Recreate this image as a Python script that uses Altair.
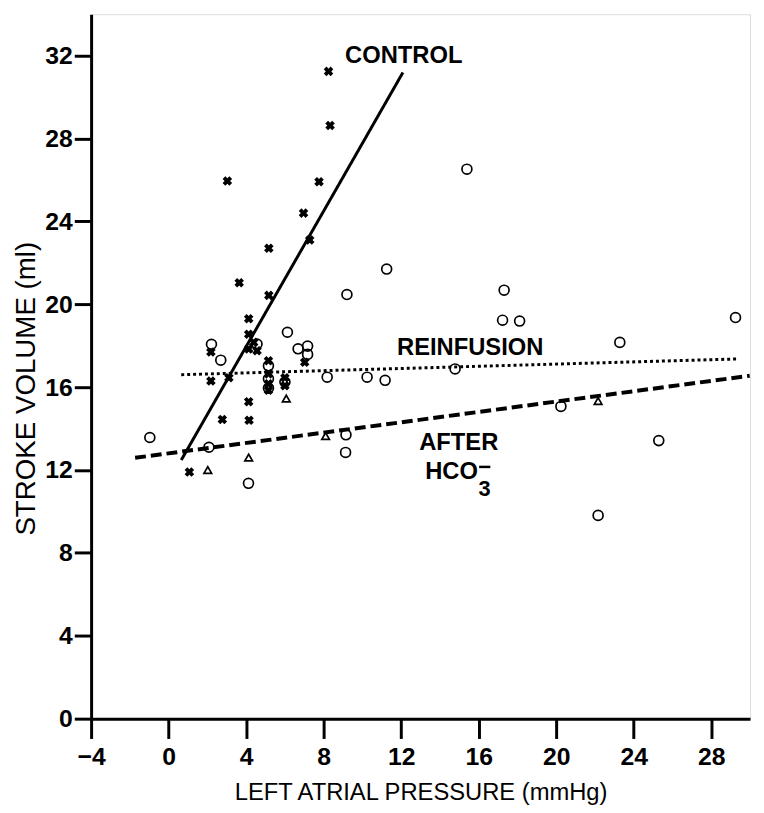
import altair as alt
import pandas as pd

# Control (crosses)
ctrl_x = [8.25, 8.33, 3.03, 7.76, 6.96, 7.28, 5.17, 3.64, 5.17, 4.13, 4.13, 4.39, 4.13, 4.56,
          2.18, 5.15, 7.02, 2.18, 3.11, 5.15, 5.15, 5.15, 6.0, 6.0, 4.13, 2.77, 4.15, 1.07]
ctrl_y = [31.24, 28.63, 25.95, 25.91, 24.4, 23.1, 22.7, 21.04, 20.43, 19.3, 18.55, 18.16, 17.84, 17.76,
          17.7, 17.27, 17.2, 16.3, 16.45, 16.64, 16.16, 15.85, 16.45, 16.07, 15.3, 14.44, 14.4, 11.9]

# Reinfusion (open circles)
circ_x = [-0.97, 2.21, 2.69, 2.08, 4.12, 4.56, 5.15, 5.15, 5.15, 6.0, 6.13, 6.68, 7.17, 7.17,
          9.2, 11.25, 8.18, 10.24, 11.17, 9.15, 9.13, 15.39, 17.31, 17.23, 18.11, 29.25, 23.28,
          14.78, 20.24, 25.29, 22.16]
circ_y = [13.57, 18.07, 17.3, 13.1, 11.36, 18.08, 17.03, 16.4, 15.95, 16.25, 18.65, 17.85, 17.98, 17.58,
          20.47, 21.7, 16.48, 16.48, 16.33, 13.7, 12.85, 26.52, 20.68, 19.23, 19.19, 19.36, 18.16,
          16.88, 15.07, 13.42, 9.81]

# After HCO3 (open triangles)
tri_x = [6.07, 8.1, 4.13, 2.02, 22.16]
tri_y = [15.45, 13.64, 12.6, 12.0, 15.33]

# Fitted lines (end points)
line_names = ["control", "control", "reinfusion", "reinfusion", "after", "after"]
line_x = [0.65, 12.09, 0.65, 29.3, -1.73, 29.98]
line_y = [12.48, 31.19, 16.6, 17.36, 12.59, 16.55]

x_ticks = [-4, 0, 4, 8, 12, 16, 20, 24, 28]
y_ticks = [0, 4, 8, 12, 16, 20, 24, 28, 32]

# Annotations
lab_text = ["CONTROL", "REINFUSION", "AFTER", "HCO"]
lab_x = [12.13, 15.56, 14.97, 14.6]
lab_y = [31.99, 17.88, 13.28, 11.89]

FONT = "Liberation Sans"

xs = alt.Scale(domain=[-4, 30], nice=False, zero=False)
ys = alt.Scale(domain=[0, 34], nice=False, zero=False)

xaxis = alt.Axis(values=x_ticks, title="LEFT ATRIAL PRESSURE (mmHg)", grid=False,
                 domainColor="black", domainWidth=3, tickColor="black", tickWidth=3, tickSize=20,
                 labelFont=FONT, labelFontSize=25, labelFontWeight="bold", labelColor="black",
                 labelPadding=6, titleFont=FONT, titleFontSize=24, titleFontWeight="normal",
                 titleColor="black", titlePadding=12, labelFlush=False)
yaxis = alt.Axis(values=y_ticks, title="STROKE VOLUME (ml)", grid=False,
                 domainColor="black", domainWidth=3, tickColor="black", tickWidth=3, tickSize=17,
                 labelFont=FONT, labelFontSize=25, labelFontWeight="bold", labelColor="black",
                 labelPadding=2, titleFont=FONT, titleFontSize=28, titleFontWeight="normal",
                 titleColor="black", titleX=-65, titleY=378, titleBaseline="middle",
                 titleAlign="center", labelFlush=False)

ctrl_df = pd.DataFrame({"x": ctrl_x, "y": ctrl_y})
circ_df = pd.DataFrame({"x": circ_x, "y": circ_y})
tri_df = pd.DataFrame({"x": tri_x, "y": tri_y})
line_df = pd.DataFrame({"name": line_names, "x": line_x, "y": line_y})
lab_df = pd.DataFrame({"t": lab_text, "x": lab_x, "y": lab_y})

base_x = alt.X("x:Q", scale=xs, axis=xaxis)
base_y = alt.Y("y:Q", scale=ys, axis=yaxis)

def line(name, dash, width):
    return alt.Chart(line_df[line_df.name == name]).mark_line(
        color="black", strokeWidth=width, strokeDash=dash, strokeCap="butt"
    ).encode(x=base_x, y=base_y)

ctrl_line = line("control", [1, 0], 3)
rein_line = line("reinfusion", [3, 3], 3)
after_line = line("after", [11, 5], 4)

crosses = alt.Chart(ctrl_df).mark_point(shape="cross", filled=True, color="black", size=95, angle=45,
                                        opacity=1).encode(x=base_x, y=base_y)
circles = alt.Chart(circ_df).mark_point(shape="circle", filled=False, color="black", size=100,
                                        strokeWidth=1.7, opacity=1).encode(x=base_x, y=base_y)
triangles = alt.Chart(tri_df).mark_point(shape="triangle-up", filled=False, color="black", size=60,
                                         strokeWidth=1.7, opacity=1).encode(x=base_x, y=base_y)

labels = alt.Chart(lab_df).mark_text(font=FONT, fontSize=24, fontWeight="bold", color="black",
                                     align="center", baseline="middle").encode(
    x=base_x, y=base_y, text="t:N")

sub_df = pd.DataFrame({"t": ["3"], "x": [16.3], "y": [11.1]})
sub = alt.Chart(sub_df).mark_text(font=FONT, fontSize=22, fontWeight="bold", color="black",
                                  align="center", baseline="middle").encode(x=base_x, y=base_y, text="t:N")
bar_df = pd.DataFrame({"x": [16.02], "x2": [16.6], "y": [12.15]})
bar = alt.Chart(bar_df).mark_rule(color="black", strokeWidth=2.5).encode(
    x=base_x, x2="x2:Q", y=base_y)

chart = alt.layer(after_line, rein_line, ctrl_line, circles, triangles, crosses, labels, sub, bar).properties(
    width=666, height=712,
    autosize=alt.AutoSizeParams(type="none"),
    padding={"left": 84, "top": 2, "right": 6, "bottom": 83},
).configure_view(stroke=None).configure(background="white")

chart.save("out.html", embed_options={"renderer": "svg", "actions": False})
